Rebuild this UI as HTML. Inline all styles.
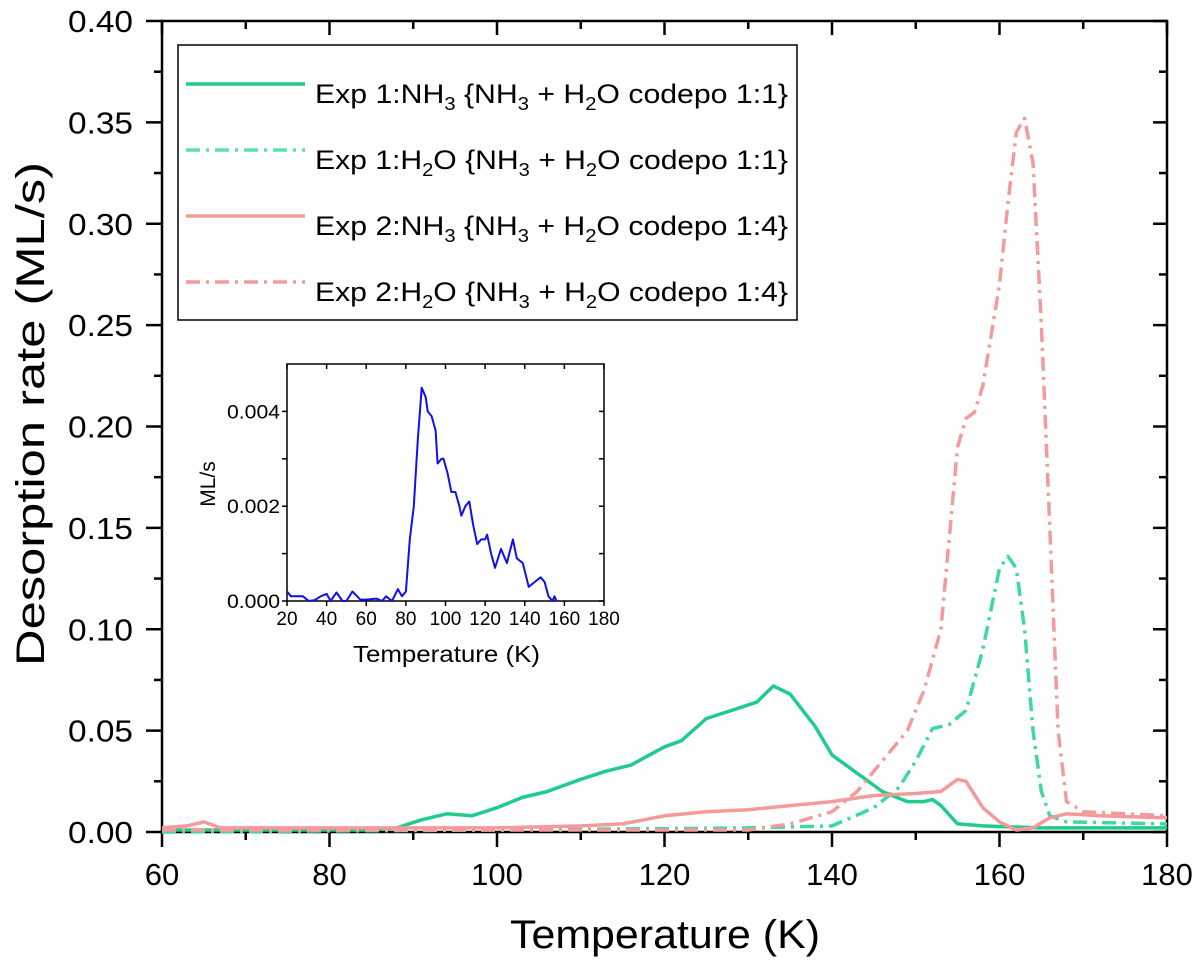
<!DOCTYPE html>
<html><head><meta charset="utf-8"><style>
body{margin:0;background:#fff}
svg{font-family:"Liberation Sans",Arial,sans-serif}
</style></head><body>
<svg id="chart" width="1200" height="966" viewBox="0 0 1200 966" xmlns="http://www.w3.org/2000/svg">
<g id="main"></g>
<g id="legend">
<rect x="178" y="45" width="619" height="275" fill="#fff" stroke="#000" stroke-width="1.5"/>
<g>
<line x1="186" y1="84" x2="305" y2="84" stroke="#1fcc88" stroke-width="3.5"/>
<text x="315" y="103" font-size="27" textLength="473" lengthAdjust="spacingAndGlyphs">Exp 1:NH<tspan font-size="18" dy="7">3</tspan><tspan dy="-7"> {NH</tspan><tspan font-size="18" dy="7">3</tspan><tspan dy="-7"> + H</tspan><tspan font-size="18" dy="7">2</tspan><tspan dy="-7">O codepo 1:1}</tspan></text></g>
<g>
<line x1="186" y1="150" x2="305" y2="150" stroke="#5de0b0" stroke-width="3.5" stroke-dasharray="14,6,3,6"/>
<text x="315" y="169" font-size="27" textLength="473" lengthAdjust="spacingAndGlyphs">Exp 1:H<tspan font-size="18" dy="7">2</tspan><tspan dy="-7">O {NH</tspan><tspan font-size="18" dy="7">3</tspan><tspan dy="-7"> + H</tspan><tspan font-size="18" dy="7">2</tspan><tspan dy="-7">O codepo 1:1}</tspan></text></g>
<g>
<line x1="186" y1="216" x2="305" y2="216" stroke="#f59a9a" stroke-width="3.5"/>
<text x="315" y="235" font-size="27" textLength="473" lengthAdjust="spacingAndGlyphs">Exp 2:NH<tspan font-size="18" dy="7">3</tspan><tspan dy="-7"> {NH</tspan><tspan font-size="18" dy="7">3</tspan><tspan dy="-7"> + H</tspan><tspan font-size="18" dy="7">2</tspan><tspan dy="-7">O codepo 1:4}</tspan></text></g>
<g>
<line x1="186" y1="282" x2="305" y2="282" stroke="#f59a9a" stroke-width="3.5" stroke-dasharray="14,6,3,6"/>
<text x="315" y="301" font-size="27" textLength="473" lengthAdjust="spacingAndGlyphs">Exp 2:H<tspan font-size="18" dy="7">2</tspan><tspan dy="-7">O {NH</tspan><tspan font-size="18" dy="7">3</tspan><tspan dy="-7"> + H</tspan><tspan font-size="18" dy="7">2</tspan><tspan dy="-7">O codepo 1:4}</tspan></text></g>
</g>
<g id="inset"></g>
</svg>
<script>
const xTicks=[60,80,100,120,140,160,180];
const yTicks=[0,0.05,0.10,0.15,0.20,0.25,0.30,0.35,0.40];
const exp1NH3T=[60,70,80,85,88,91,94,97,100,103,106,110,113,116,120,122,125,128,131,133,135,138,140,143,146,149,151,152,153,155,158,165,170,180];
const exp1NH3V=[0.001,0.001,0.001,0.001,0.002,0.006,0.009,0.008,0.012,0.017,0.020,0.026,0.030,0.033,0.042,0.045,0.056,0.060,0.064,0.072,0.068,0.052,0.038,0.029,0.020,0.015,0.015,0.016,0.013,0.004,0.003,0.002,0.002,0.002];
const exp1H2OT=[60,100,130,140,145,148,150,152,154,156,158,160,161,162,163,164,165,166,168,180];
const exp1H2OV=[0,0.001,0.002,0.003,0.012,0.022,0.035,0.051,0.053,0.060,0.090,0.130,0.136,0.130,0.100,0.050,0.020,0.008,0.005,0.004];
const exp2NH3T=[60,63,65,67,80,100,110,115,120,125,130,135,140,145,150,153,155,156,158,160,162,164,166,168,172,180];
const exp2NH3V=[0.002,0.003,0.005,0.002,0.002,0.002,0.003,0.004,0.008,0.010,0.011,0.013,0.015,0.018,0.019,0.020,0.026,0.025,0.012,0.005,0.001,0.002,0.007,0.009,0.008,0.007];
const exp2H2OT=[60,100,130,135,140,143,146,149,151,153,155,156,157,158,160,161,162,163,164,165,166,167,168,170,180];
const exp2H2OV=[0.001,0.001,0.001,0.004,0.010,0.020,0.035,0.050,0.070,0.100,0.190,0.204,0.207,0.220,0.270,0.310,0.345,0.352,0.330,0.250,0.150,0.050,0.015,0.010,0.008];
const insetXTicks=[20,40,60,80,100,120,140,160,180];
const insetYTicks=[0,0.002,0.004];
const insetT=[20,22,25,28,31,34,37,40,42,45,48,50,53,57,60,65,68,70,73,76,78,80,82,84,86,88,90,91,93,95,96,98,99,101,103,105,107,108,110,112,114,116,118,120,121,123,125,128,131,134,136,139,142,145,148,150,152,154,155,156];
const insetV=[0.0002,0.0001,0.0001,0.0001,0,0.00002,0.0001,0.00015,0,0.00018,0,0,0.0002,0.00003,0.00003,0.00005,0,0.0001,0,0.00025,0.0001,0.0002,0.0013,0.002,0.0034,0.0045,0.0043,0.004,0.0039,0.0036,0.0029,0.003,0.003,0.0027,0.0023,0.0023,0.002,0.0018,0.002,0.0021,0.0016,0.0012,0.0013,0.0013,0.0014,0.001,0.0007,0.0011,0.0008,0.0013,0.0009,0.0008,0.0003,0.0004,0.0005,0.0004,0.0001,0,0.0001,0];

const NS="http://www.w3.org/2000/svg";
function mk(parent,tag,attrs,text){const e=document.createElementNS(NS,tag);for(const k in attrs)e.setAttribute(k,attrs[k]);if(text!==undefined)e.textContent=text;parent.appendChild(e);return e;}

const L=162,R=1167,T=21,B=832;
const xS=v=>L+(v-60)/120*(R-L);
const yS=v=>B-v/0.40*(B-T);
const main=document.getElementById('main');
const frame=mk(main,'rect',{x:L,y:T,width:R-L,height:B-T,fill:'none',stroke:'#000','stroke-width':2.5});


xTicks.forEach((t,i)=>{
  const x=xS(t);
  mk(main,'line',{x1:x,y1:B,x2:x,y2:B+15,stroke:'#000','stroke-width':2.5});
  mk(main,'line',{x1:x,y1:T,x2:x,y2:T+14,stroke:'#000','stroke-width':2.5});
  if(i<xTicks.length-1){const xm=xS(t+10);
    mk(main,'line',{x1:xm,y1:B,x2:xm,y2:B+8,stroke:'#000','stroke-width':2.5});
    mk(main,'line',{x1:xm,y1:T,x2:xm,y2:T+8,stroke:'#000','stroke-width':2.5});}
  const lb=mk(main,'text',{x:x,y:B+53,'font-size':31,'text-anchor':'middle'},String(t));
  
  
});
yTicks.forEach((t,i)=>{
  const y=yS(t);
  mk(main,'line',{x1:L-16,y1:y,x2:L,y2:y,stroke:'#000','stroke-width':2.5});
  mk(main,'line',{x1:R-14,y1:y,x2:R,y2:y,stroke:'#000','stroke-width':2.5});
  if(i<yTicks.length-1){const ym=yS(t+0.025);
    mk(main,'line',{x1:L-8,y1:ym,x2:L,y2:ym,stroke:'#000','stroke-width':2.5});
    mk(main,'line',{x1:R-8,y1:ym,x2:R,y2:ym,stroke:'#000','stroke-width':2.5});}
  const lb=mk(main,'text',{x:L-29,y:y+11,'font-size':31,'text-anchor':'end',textLength:65,lengthAdjust:'spacingAndGlyphs'},t.toFixed(2));
  
  
});
const xt=mk(main,'text',{x:510,y:948,'font-size':40,textLength:310,lengthAdjust:'spacingAndGlyphs'},'Temperature (K)');


const yt=mk(main,'text',{x:-252,y:0,'font-size':40,textLength:504,lengthAdjust:'spacingAndGlyphs',transform:'translate(44,414) rotate(-90)'},'Desorption rate (ML/s)');



function path(T,V,xs,ys){return T.map((t,i)=>(i?'L':'M')+xs(t).toFixed(1)+','+ys(V[i]).toFixed(1)).join(' ');}
const series=[
 [exp1NH3T,exp1NH3V,'#1fcc88',null,'series-exp1-nh3'],
 [exp1H2OT,exp1H2OV,'#3ed8a0','14,6,3,6','series-exp1-h2o'],
 [exp2NH3T,exp2NH3V,'#f59a9a',null,'series-exp2-nh3'],
 [exp2H2OT,exp2H2OV,'#f59a9a','14,6,3,6','series-exp2-h2o']];
series.forEach(s=>{
  const a={d:path(s[0],s[1],xS,yS),fill:'none',stroke:s[2],'stroke-width':3.5,'stroke-linejoin':'round'};
  if(s[3])a['stroke-dasharray']=s[3];
  const p=mk(main,'path',a);
  
  
});

const iL=287,iR=604,iT=364,iB=601;
const ixS=v=>iL+(v-20)/160*(iR-iL);
const iyS=v=>iB-v/0.005*(iB-iT);
const ins=document.getElementById('inset');
mk(ins,'rect',{x:iL,y:iT,width:iR-iL,height:iB-iT,fill:'#fff',stroke:'#000','stroke-width':1.5});
insetXTicks.forEach(t=>{
  const x=ixS(t);
  mk(ins,'line',{x1:x,y1:iB,x2:x,y2:iB+5,stroke:'#000','stroke-width':1.5});
  mk(ins,'line',{x1:x,y1:iT,x2:x,y2:iT+5,stroke:'#000','stroke-width':1.5});
  const lb=mk(ins,'text',{x:x,y:iB+24,'font-size':19,'text-anchor':'middle'},String(t));
  
  
});
[0,0.001,0.002,0.003,0.004].forEach(t=>{
  const y=iyS(t);
  mk(ins,'line',{x1:iL-5,y1:y,x2:iL,y2:y,stroke:'#000','stroke-width':1.5});
  mk(ins,'line',{x1:iR-5,y1:y,x2:iR,y2:y,stroke:'#000','stroke-width':1.5});
});
insetYTicks.forEach(t=>{
  const lb=mk(ins,'text',{x:iL-7,y:iyS(t)+7,'font-size':19,'text-anchor':'end',textLength:53,lengthAdjust:'spacingAndGlyphs'},t.toFixed(3));
  
  
});
const ixt=mk(ins,'text',{x:353,y:662,'font-size':23,textLength:187,lengthAdjust:'spacingAndGlyphs'},'Temperature (K)');


const iyt=mk(ins,'text',{x:0,y:0,'font-size':21,'text-anchor':'middle',transform:'translate(215,484) rotate(-90)'},'ML/s');


const ip=mk(ins,'path',{d:path(insetT,insetV,ixS,iyS),fill:'none',stroke:'#1010ee','stroke-width':2,'stroke-linejoin':'round'});


</script>
</body></html>
